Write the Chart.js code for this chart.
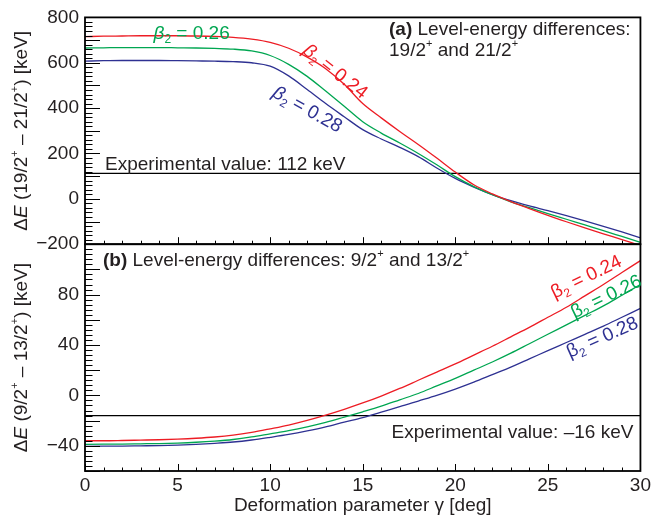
<!DOCTYPE html>
<html>
<head>
<meta charset="utf-8">
<script src="https://cdn.jsdelivr.net/npm/chart.js@4.4.0/dist/chart.umd.min.js"></script>
<style>
  html, body { margin: 0; padding: 0; background: #fff; }
  #wrap { position: relative; width: 654px; height: 519px; }
</style>
</head>
<body>
<div id="wrap"><canvas id="deltaChart"></canvas></div>
<script>
// gamma grid (deg)
const gammaDeg = [0, 1, 2, 3, 4, 5, 6, 7, 8, 9, 10, 11, 12, 13, 14, 15, 16, 17, 18, 19, 20, 21, 22, 23, 24, 25, 26, 27, 28, 29, 30];

// (a) 19/2+ - 21/2+ [keV]
const topB024 = [715, 717, 718, 719, 719, 719, 718, 716, 712, 704, 690, 664, 625, 574, 505, 420, 357, 297, 240, 180, 118, 62, 22, -12, -43, -73, -101, -128, -154, -180, -206];
const topB026 = [665, 666, 667, 667, 667, 666, 665, 663, 660, 652, 632, 593, 540, 475, 408, 340, 290, 246, 200, 150, 98, 54, 18, -13, -39, -65, -90, -115, -140, -166, -192];
const topB028 = [607, 609, 610, 610, 610, 609, 608, 607, 605, 600, 585, 542, 482, 420, 362, 305, 264, 227, 186, 136, 90, 52, 19, -8, -31, -52, -74, -97, -121, -146, -172];

// (b) 9/2+ - 13/2+ [keV]
const botB024 = [-36, -36, -35.8, -35.5, -35.2, -34.7, -34, -33, -31.5, -29.3, -26.5, -23.5, -19.8, -15.6, -11, -6, -0.5, 5.5, 12, 18.5, 25, 32, 39, 46.5, 54, 62, 70, 79, 88, 97.5, 107];
const botB026 = [-38.8, -38.7, -38.6, -38.4, -38.2, -37.8, -37.2, -36.3, -35, -33, -30.5, -28, -25, -21.5, -17.3, -13, -8.5, -3.5, 1.5, 7.5, 13.5, 20, 26.5, 33.5, 41, 48.5, 56, 63.5, 71, 79.5, 88];
const botB028 = [-40.4, -40.3, -40.2, -40, -39.8, -39.4, -38.8, -38, -37, -35.4, -33.3, -31, -28.2, -25, -21.2, -17.6, -13.2, -9, -4.5, 0, 5, 10.5, 16.5, 22.5, 29, 35.5, 42, 48.5, 55, 62, 69];

// experimental values
const expTop = 112;
const expBottom = -16;

// tick labels
const gammaTicks = [0, 5, 10, 15, 20, 25, 30];
const topTicks = [-200, 0, 200, 400, 600, 800];
const bottomTicks = [-40, 0, 40, 80];

const RED = '#ed1c24';
const GREEN = '#00a651';
const BLUE = '#2e3192';
const INK = '#231f20';
const FAMILY = "'Liberation Sans', Arial, Helvetica, sans-serif";

Chart.defaults.font.family = FAMILY;
Chart.defaults.font.size = 19;
Chart.defaults.color = INK;

function curve(label, values, color, axis) {
  return {
    label: label,
    data: gammaDeg.map((g, i) => ({ x: g, y: values[i] })),
    yAxisID: axis,
    borderColor: color,
    borderWidth: 1.3,
    pointRadius: 0,
    cubicInterpolationMode: 'monotone',
    fill: false,
  };
}

function expLine(value, axis) {
  return {
    label: 'exp',
    data: [{ x: gammaDeg[0], y: value }, { x: gammaDeg[gammaDeg.length - 1], y: value }],
    yAxisID: axis,
    borderColor: '#000',
    borderWidth: 1.2,
    pointRadius: 0,
    fill: false,
  };
}

function minusSign(v) {
  return v < 0 ? '\u2212' + Math.abs(v) : '' + v;
}

// text with sub/superscripts, drawn rotated around its anchor
function drawRuns(ctx, x, y, runs, color, align, angle) {
  ctx.save();
  ctx.translate(x, y);
  ctx.rotate(angle * Math.PI / 180);
  ctx.fillStyle = color;
  ctx.textBaseline = 'middle';
  ctx.textAlign = 'left';
  const fonts = runs.map(r => ((r.s ? r.s + ' ' : '') + (r.size || 19) + 'px ' + FAMILY));
  let total = 0;
  const widths = runs.map((r, i) => {
    ctx.font = fonts[i];
    const w = ctx.measureText(r.t).width;
    total += w;
    return w;
  });
  let cx = align === 'center' ? -total / 2 : (align === 'right' ? -total : 0);
  runs.forEach((r, i) => {
    ctx.font = fonts[i];
    ctx.fillText(r.t, cx, r.dy || 0);
    cx += widths[i];
  });
  ctx.restore();
}

const SUP = { size: 11, dy: -7 };
const SUB = { size: 12, dy: 6 };

function betaRuns(val, italic) {
  return [
    { t: '\u03b2', s: italic ? 'italic' : '' },
    Object.assign({ t: '2' }, SUB),
    { t: ' = ' + val },
  ];
}

// annotations, anchored in data coordinates
const notes = [
  { axis: 'yA', g: 5.76, v: 728, color: GREEN, align: 'center', angle: 0, runs: betaRuns('0.26', true) },
  { axis: 'yA', g: 13.5, v: 560, color: RED, align: 'center', angle: 38, runs: betaRuns('0.24', true) },
  { axis: 'yA', g: 12.0, v: 392, color: BLUE, align: 'center', angle: 29, runs: betaRuns('0.28', true) },
  { axis: 'yA', g: 16.42, v: 747, color: INK, align: 'left', angle: 0, runs: [{ t: '(a)', s: 'bold' }, { t: ' Level-energy differences:' }] },
  { axis: 'yA', g: 16.42, v: 651, color: INK, align: 'left', angle: 0, runs: [{ t: '19/2' }, Object.assign({ t: '+' }, SUP), { t: ' and 21/2' }, Object.assign({ t: '+' }, SUP)] },
  { axis: 'yA', g: 1.08, v: 150, color: INK, align: 'left', angle: 0, runs: [{ t: 'Experimental value: 112 keV' }] },
  { axis: 'yB', g: 0.97, v: 107, color: INK, align: 'left', angle: 0, runs: [{ t: '(b)', s: 'bold' }, { t: ' Level-energy differences: 9/2' }, Object.assign({ t: '+' }, SUP), { t: ' and 13/2' }, Object.assign({ t: '+' }, SUP)] },
  { axis: 'yB', g: 29.62, v: -30, color: INK, align: 'right', angle: 0, runs: [{ t: 'Experimental value: \u201316 keV' }] },
  { axis: 'yB', g: 27.09, v: 93.7, color: RED, align: 'center', angle: -26, runs: betaRuns('0.24', false) },
  { axis: 'yB', g: 28.16, v: 78, color: GREEN, align: 'center', angle: -26, runs: betaRuns('0.26', false) },
  { axis: 'yB', g: 27.95, v: 45.7, color: BLUE, align: 'center', angle: -24, runs: betaRuns('0.28', false) },
];

const axisTitles = [
  { axis: 'yA', runs: [{ t: '\u0394' }, { t: 'E', s: 'italic' }, { t: ' (19/2' }, Object.assign({ t: '+' }, SUP), { t: ' \u2013 21/2' }, Object.assign({ t: '+' }, SUP), { t: ') [keV]' }] },
  { axis: 'yB', runs: [{ t: '\u0394' }, { t: 'E', s: 'italic' }, { t: ' (9/2' }, Object.assign({ t: '+' }, SUP), { t: ' \u2013 13/2' }, Object.assign({ t: '+' }, SUP), { t: ') [keV]' }] },
];

// ROOT-like frame with inward ticks + annotations
const framePlugin = {
  id: 'rootFrame',
  afterDatasetsDraw(chart) {
    const ctx = chart.ctx;
    const xs = chart.scales.x;
    const panels = [
      { s: chart.scales.yA, minor: 20, major: 100 },
      { s: chart.scales.yB, minor: 4, major: 20 },
    ];
    ctx.save();
    ctx.strokeStyle = '#000';
    panels.forEach(p => {
      const s = p.s;
      ctx.lineWidth = 1;
      ctx.beginPath();
      for (let v = s.min; v <= s.max + 1e-9; v += p.minor) {
        const y = Math.round(s.getPixelForValue(v)) + 0.5;
        const len = Math.abs(v % p.major) < 1e-9 ? 15 : 7.5;
        ctx.moveTo(xs.left, y);
        ctx.lineTo(xs.left + len, y);
      }
      for (let g = xs.min; g <= xs.max; g += 1) {
        const x = Math.round(xs.getPixelForValue(g)) + 0.5;
        const len = g % 5 === 0 ? 7 : 3.5;
        ctx.moveTo(x, s.bottom);
        ctx.lineTo(x, s.bottom - len);
      }
      ctx.stroke();
      ctx.lineWidth = 1.8;
      ctx.strokeRect(xs.left, s.top, xs.right - xs.left, s.bottom - s.top);
    });
    ctx.restore();

    notes.forEach(n => {
      const s = chart.scales[n.axis];
      drawRuns(ctx, xs.getPixelForValue(n.g), s.getPixelForValue(n.v), n.runs, n.color, n.align, n.angle);
    });
    axisTitles.forEach(t => {
      const s = chart.scales[t.axis];
      drawRuns(ctx, 22, (s.top + s.bottom) / 2, t.runs, INK, 'center', -90);
    });
  }
};

new Chart(document.getElementById('deltaChart'), {
  type: 'line',
  data: {
    datasets: [
      curve('b24', botB024, RED, 'yB'),
      curve('b26', botB026, GREEN, 'yB'),
      curve('b28', botB028, BLUE, 'yB'),
      expLine(expBottom, 'yB'),
      curve('a24', topB024, RED, 'yA'),
      curve('a26', topB026, GREEN, 'yA'),
      curve('a28', topB028, BLUE, 'yA'),
      expLine(expTop, 'yA'),
    ]
  },
  options: {
    responsive: true,
    maintainAspectRatio: false,
    animation: false,
    events: [],
    layout: {
      padding: { left: 0, right: 12, top: 14, bottom: 0 }
    },
    plugins: {
      legend: { display: false },
      tooltip: { enabled: false },
    },
    scales: {
      x: {
        type: 'linear',
        min: 0,
        max: 30,
        grid: { display: false, drawTicks: false },
        border: { display: false },
        afterBuildTicks: (axis) => { axis.ticks = gammaTicks.map(v => ({ value: v })); },
        afterFit: (axis) => { axis.height = 48; },
        ticks: { padding: 3, maxRotation: 0, autoSkip: false, color: INK },
        title: {
          display: true,
          text: 'Deformation parameter \u03b3 [deg]',
          color: INK,
          font: { size: 19 },
          padding: { top: 0, bottom: 2 },
        },
      },
      yB: {
        type: 'linear',
        position: 'left',
        stack: 'panels',
        stackWeight: 1,
        min: -60,
        max: 120,
        grid: { display: false, drawTicks: false },
        border: { display: false },
        afterBuildTicks: (axis) => { axis.ticks = bottomTicks.map(v => ({ value: v })); },
        afterFit: (axis) => { axis.width = 85; },
        ticks: { padding: 6, autoSkip: false, color: INK, callback: (v) => minusSign(v) },
      },
      yA: {
        type: 'linear',
        position: 'left',
        stack: 'panels',
        stackWeight: 1,
        min: -200,
        max: 800,
        grid: { display: false, drawTicks: false },
        border: { display: false },
        afterBuildTicks: (axis) => { axis.ticks = topTicks.map(v => ({ value: v })); },
        afterFit: (axis) => { axis.width = 85; },
        ticks: { padding: 6, autoSkip: false, color: INK, callback: (v) => minusSign(v) },
      },
    },
  },
  plugins: [framePlugin],
});
</script>
</body>
</html>
